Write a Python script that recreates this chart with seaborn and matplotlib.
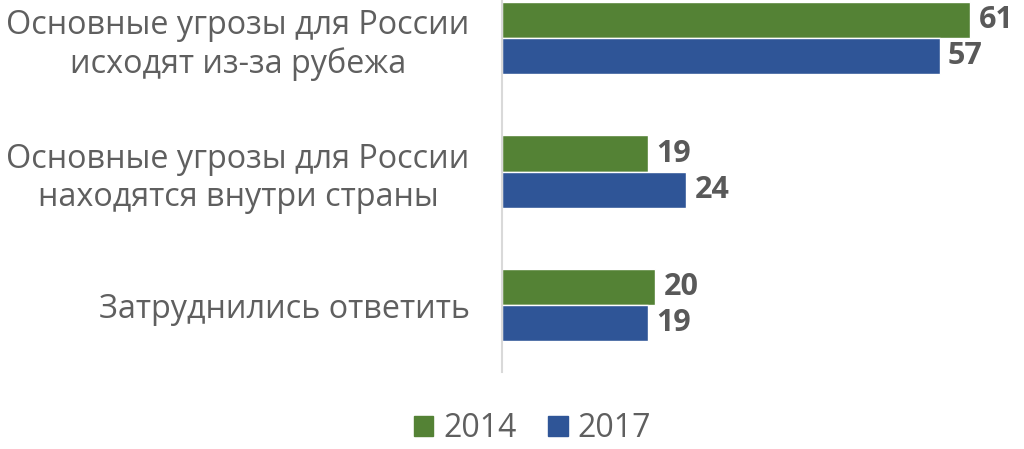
import pandas as pd
import matplotlib
matplotlib.use("Agg")
import matplotlib.pyplot as plt
import seaborn as sns
from matplotlib.patches import Patch

categories = [
    "Основные угрозы для России\nисходят из-за рубежа",
    "Основные угрозы для России\nнаходятся внутри страны",
    "Затруднились ответить",
]
years = ["2014", "2017"]
values_2014 = [61, 19, 20]
values_2017 = [57, 24, 19]

colors = {"2014": "#548235", "2017": "#2F5597"}
grey = "#595959"

df = pd.DataFrame({
    "category": categories * 2,
    "year": [years[0]] * 3 + [years[1]] * 3,
    "value": values_2014 + values_2017,
})

sns.set_theme(style="white")
plt.rcParams["font.family"] = ["Open Sans", "DejaVu Sans"]

fig = plt.figure(figsize=(10.24, 4.49), dpi=100)
ax = fig.add_axes([0.49, 0.172, 0.51, 0.828])

sns.barplot(data=df, y="category", x="value", hue="year", orient="h",
            palette=colors, width=0.54, saturation=1, ax=ax, legend=False)

for cont in ax.containers:
    ax.bar_label(cont, padding=6, fontsize=22, fontweight="bold", color=grey)

ax.set_xlim(0, 68)
ax.set_ylim(2.5, -0.285)
ax.set_xlabel("")
ax.set_ylabel("")
ax.set_xticks([])
for s in ["top", "right", "bottom"]:
    ax.spines[s].set_visible(False)
ax.spines["left"].set_color("#d9d9d9")
ax.spines["left"].set_linewidth(1.5)
ax.tick_params(axis="y", length=0, pad=23)
for lbl in ax.get_yticklabels():
    lbl.set_fontsize(23.3)
    lbl.set_color("#5f5f5f")
    lbl.set_multialignment("center")
    lbl.set_linespacing(1.2)

handles = [Patch(color=colors[y]) for y in years]
fig.legend(handles, years, loc="center", bbox_to_anchor=(0.52, 0.045), ncol=2,
           frameon=False, fontsize=23, labelcolor="#5f5f5f", handlelength=0.6,
           handleheight=0.6, handletextpad=0.3, columnspacing=1.0)

fig.savefig("out.png", dpi=100)
